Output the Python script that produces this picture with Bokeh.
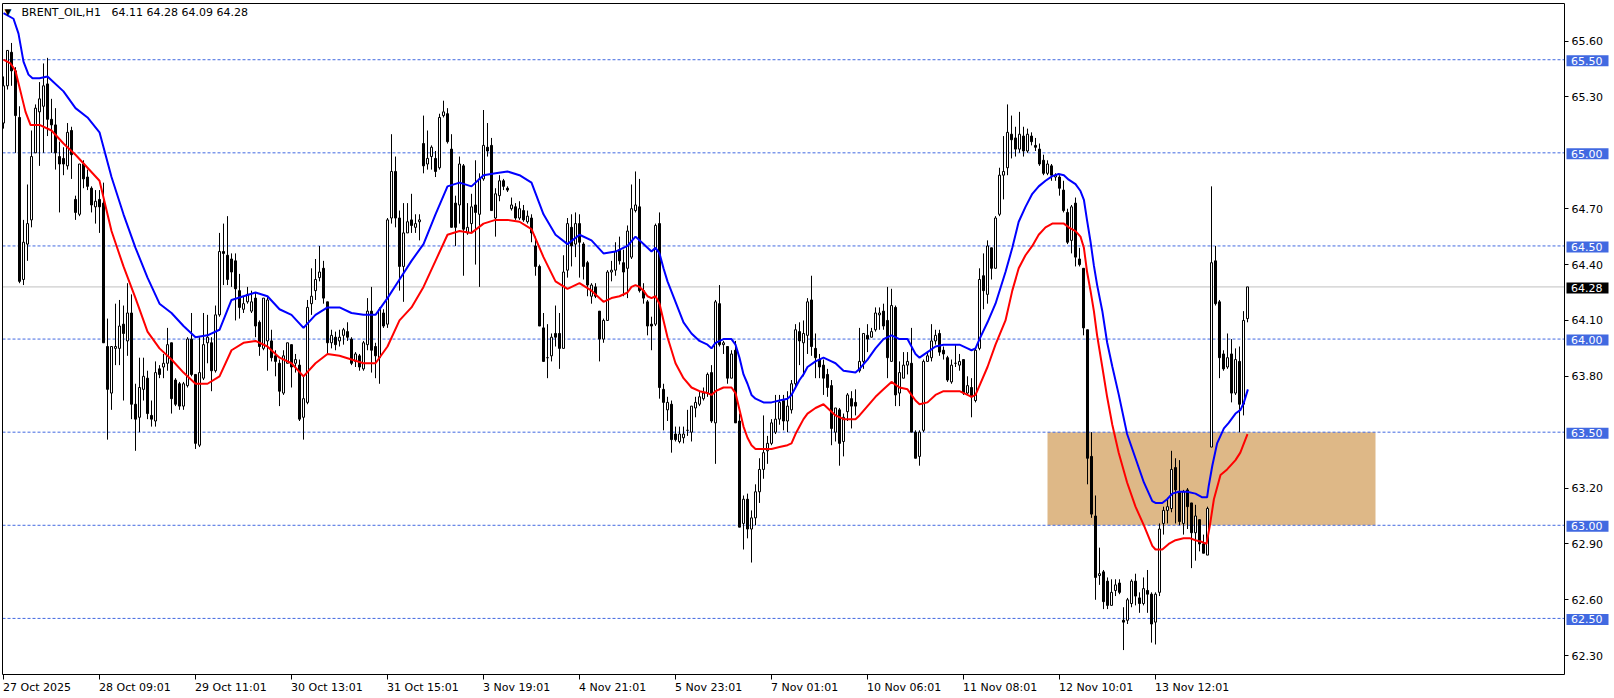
from bokeh.plotting import figure
from bokeh.models import ColumnDataSource, Label, FixedTicker, PrintfTickFormatter, LinearAxis
from bokeh.core.properties import value
from bokeh.embed import file_html
from bokeh.resources import INLINE

symbol = "BRENT_OIL,H1"

opens = [
    65.16, 65.36, 65.54, 65.44, 65.19, 64.32, 64.51, 64.64, 65.00, 65.22,
    65.25, 65.37, 65.18, 65.15, 64.98, 64.97, 64.93, 65.12, 64.75, 64.67,
    64.94, 64.87, 64.81, 64.71, 64.75, 64.73, 63.96, 63.71, 63.95, 63.95,
    64.08, 63.99, 64.14, 63.65, 63.58, 63.73, 63.79, 63.59, 63.56, 63.84,
    63.85, 63.87, 63.98, 63.78, 63.76, 63.64, 63.75, 64.00, 63.81, 63.43,
    63.79, 63.98, 63.98, 63.83, 64.13, 64.47, 64.45, 64.43, 64.42, 64.26,
    64.16, 64.20, 64.15, 64.22, 64.09, 63.95, 63.99, 63.99, 63.91, 63.87,
    63.71, 63.87, 63.97, 63.87, 63.86, 63.58, 63.66, 64.19, 64.26, 64.33,
    64.38, 64.20, 63.98, 64.01, 63.99, 64.02, 64.04, 64.00, 63.88, 63.91,
    63.84, 63.97, 64.15, 63.96, 63.90, 64.14, 64.08, 64.65, 64.90, 64.65,
    64.39, 64.57, 64.64, 64.60, 64.63, 65.05, 64.94, 64.98, 64.97, 64.92,
    65.20, 65.21, 65.02, 64.73, 64.72, 64.93, 64.57, 64.62, 64.72, 64.67,
    64.86, 65.03, 65.04, 64.65, 64.77, 64.85, 64.81, 64.70, 64.71, 64.65,
    64.69, 64.63, 64.65, 64.50, 64.39, 64.06, 63.90, 63.91, 64.03, 64.03,
    63.95, 64.37, 64.60, 64.51, 64.62, 64.51, 64.41, 64.23, 64.28, 64.15,
    64.00, 64.10, 64.36, 64.37, 64.48, 64.41, 64.38, 64.44, 64.69, 64.71,
    64.26, 64.20, 64.08, 64.08, 64.62, 63.73, 63.62, 63.65, 63.49, 63.45,
    63.47, 63.51, 63.50, 63.63, 63.65, 63.68, 63.71, 63.82, 63.55, 64.19,
    63.97, 63.96, 63.79, 63.94, 63.56, 63.01, 63.14, 62.98, 63.04, 63.18,
    63.30, 63.40, 63.44, 63.50, 63.57, 63.67, 63.56, 63.62, 63.76, 64.04,
    63.98, 64.02, 64.21, 63.95, 63.89, 63.86, 63.81, 63.75, 63.50, 63.62,
    63.45, 63.61, 63.68, 63.66, 63.83, 63.88, 64.02, 64.01, 64.05, 64.13,
    64.15, 64.10, 63.88, 64.17, 63.71, 63.79, 63.86, 63.87, 63.50, 63.37,
    63.51, 63.88, 63.90, 63.99, 64.03, 63.94, 63.90, 63.77, 63.87, 63.86,
    63.89, 63.71, 63.74, 63.67, 63.95, 64.34, 64.24, 64.49, 64.38, 64.67,
    64.88, 64.92, 65.10, 65.08, 65.02, 65.09, 65.01, 65.09, 65.04, 65.02,
    64.96, 64.89, 64.93, 64.87, 64.87, 64.80, 64.68, 64.53, 64.73, 64.43,
    64.38, 64.05, 63.37, 63.05, 62.73, 62.75, 62.70, 62.57, 62.65, 62.69,
    62.49, 62.49, 62.58, 62.70, 62.61, 62.58, 62.65, 62.63, 62.48, 62.64,
    63.01, 63.08, 63.09, 63.31, 63.18, 63.01, 63.19, 63.12, 62.96, 63.03,
    62.90, 62.84, 63.42, 64.42, 64.20, 63.92, 63.85, 63.92, 63.71, 63.88,
    63.65, 64.11,
]

highs = [
    65.41, 65.55, 65.59, 65.46, 65.25, 64.64, 64.83, 65.12, 65.26, 65.38,
    65.48, 65.51, 65.29, 65.24, 65.06, 65.03, 65.16, 65.14, 64.77, 64.94,
    64.96, 64.91, 64.82, 64.80, 64.80, 64.84, 64.11, 63.96, 64.19, 64.21,
    64.18, 64.30, 64.24, 63.76, 63.90, 63.90, 63.83, 63.67, 63.88, 63.86,
    63.92, 64.06, 63.98, 63.79, 63.77, 63.77, 64.01, 64.14, 63.81, 64.01,
    64.14, 64.13, 64.01, 64.18, 64.57, 64.62, 64.66, 64.46, 64.46, 64.35,
    64.23, 64.28, 64.26, 64.25, 64.10, 64.22, 64.23, 64.05, 63.94, 63.89,
    63.94, 63.98, 63.97, 63.92, 63.89, 63.80, 64.21, 64.38, 64.43, 64.50,
    64.42, 64.20, 64.05, 64.04, 64.05, 64.06, 64.09, 64.01, 63.93, 63.92,
    63.99, 64.22, 64.28, 63.98, 64.17, 64.16, 64.65, 65.10, 64.98, 64.69,
    64.73, 64.73, 64.78, 64.67, 64.67, 65.20, 65.12, 65.04, 65.01, 65.21,
    65.28, 65.24, 65.10, 64.77, 64.98, 64.94, 64.73, 64.78, 64.96, 64.89,
    65.23, 65.16, 65.08, 64.81, 64.88, 64.86, 64.82, 64.76, 64.73, 64.74,
    64.72, 64.69, 64.67, 64.55, 64.40, 64.14, 64.08, 64.03, 64.18, 64.14,
    64.45, 64.65, 64.67, 64.68, 64.67, 64.52, 64.42, 64.30, 64.30, 64.15,
    64.11, 64.37, 64.42, 64.52, 64.55, 64.48, 64.61, 64.83, 64.90, 64.86,
    64.30, 64.21, 64.12, 64.62, 64.68, 63.76, 63.69, 63.67, 63.53, 63.53,
    63.53, 63.62, 63.64, 63.69, 63.72, 63.74, 63.82, 63.86, 64.21, 64.29,
    63.99, 63.96, 63.94, 63.99, 63.60, 63.16, 63.17, 63.08, 63.22, 63.36,
    63.59, 63.48, 63.57, 63.70, 63.70, 63.70, 63.72, 63.78, 64.08, 64.09,
    64.10, 64.22, 64.34, 64.03, 63.92, 63.89, 63.84, 63.78, 63.63, 63.63,
    63.60, 63.71, 63.72, 63.73, 64.06, 64.03, 64.08, 64.06, 64.17, 64.17,
    64.19, 64.28, 64.27, 64.18, 63.88, 63.93, 63.93, 64.06, 63.51, 63.51,
    63.89, 63.93, 64.08, 64.05, 64.05, 63.96, 63.91, 63.89, 63.97, 63.92,
    63.89, 63.80, 63.79, 63.95, 64.38, 64.46, 64.53, 64.49, 64.66, 64.92,
    65.09, 65.26, 65.20, 65.14, 65.22, 65.14, 65.13, 65.11, 65.08, 65.05,
    64.99, 64.96, 64.94, 64.89, 64.88, 64.85, 64.70, 64.72, 64.76, 64.49,
    64.38, 64.05, 63.50, 63.16, 62.88, 62.76, 62.72, 62.71, 62.71, 62.71,
    62.56, 62.61, 62.71, 62.74, 62.64, 62.72, 62.76, 62.64, 62.64, 63.01,
    63.10, 63.14, 63.40, 63.36, 63.35, 63.19, 63.20, 63.12, 63.11, 63.03,
    62.95, 63.10, 64.82, 64.50, 64.21, 63.94, 64.03, 64.00, 63.95, 63.96,
    64.15, 64.28,
]

lows = [
    65.13, 65.34, 65.36, 65.00, 64.30, 64.29, 64.42, 64.60, 65.00, 64.93,
    65.00, 65.09, 65.00, 64.91, 64.68, 64.88, 64.91, 64.86, 64.64, 64.66,
    64.81, 64.80, 64.68, 64.62, 64.57, 63.98, 63.46, 63.62, 63.86, 63.86,
    63.67, 63.91, 63.57, 63.40, 63.50, 63.67, 63.57, 63.53, 63.53, 63.79,
    63.79, 63.83, 63.60, 63.64, 63.62, 63.62, 63.74, 63.80, 63.41, 63.42,
    63.78, 63.87, 63.72, 63.82, 64.12, 64.29, 64.29, 64.28, 64.10, 64.11,
    64.14, 64.19, 64.14, 64.01, 63.91, 63.94, 63.83, 63.88, 63.80, 63.64,
    63.70, 63.87, 63.74, 63.82, 63.56, 63.46, 63.65, 64.13, 64.21, 64.31,
    64.19, 63.92, 63.95, 63.94, 63.96, 63.97, 63.99, 63.86, 63.85, 63.83,
    63.83, 63.94, 63.82, 63.79, 63.76, 64.06, 64.06, 64.62, 64.60, 64.26,
    64.20, 64.57, 64.57, 64.57, 64.53, 64.89, 64.91, 64.91, 64.87, 64.91,
    65.19, 65.05, 64.60, 64.50, 64.62, 64.34, 64.56, 64.57, 64.40, 64.28,
    64.85, 64.98, 64.69, 64.55, 64.74, 64.80, 64.79, 64.69, 64.64, 64.64,
    64.63, 64.62, 64.52, 64.34, 64.07, 63.88, 63.79, 63.88, 63.96, 63.84,
    63.95, 64.33, 64.39, 64.44, 64.33, 64.32, 64.23, 64.19, 64.22, 63.88,
    63.98, 64.10, 64.31, 64.34, 64.40, 64.23, 64.22, 64.43, 64.68, 64.25,
    64.19, 64.02, 63.94, 64.07, 63.68, 63.51, 63.56, 63.39, 63.45, 63.44,
    63.44, 63.48, 63.45, 63.58, 63.64, 63.67, 63.69, 63.55, 63.33, 63.96,
    63.92, 63.76, 63.79, 63.55, 62.99, 62.87, 62.93, 62.80, 63.00, 63.12,
    63.25, 63.33, 63.43, 63.49, 63.54, 63.51, 63.50, 63.60, 63.74, 63.86,
    63.80, 63.92, 63.91, 63.79, 63.79, 63.70, 63.69, 63.43, 63.45, 63.32,
    63.37, 63.56, 63.52, 63.59, 63.82, 63.84, 63.93, 64.01, 64.04, 64.05,
    64.05, 63.79, 63.88, 63.64, 63.64, 63.79, 63.81, 63.50, 63.36, 63.32,
    63.50, 63.88, 63.88, 63.97, 63.91, 63.89, 63.77, 63.76, 63.85, 63.83,
    63.70, 63.70, 63.58, 63.66, 63.94, 64.16, 64.19, 64.32, 64.38, 64.66,
    64.75, 64.88, 64.97, 64.98, 65.00, 64.98, 65.00, 65.04, 65.01, 64.93,
    64.88, 64.88, 64.85, 64.85, 64.77, 64.68, 64.51, 64.46, 64.39, 64.39,
    64.02, 63.22, 63.04, 62.60, 62.68, 62.55, 62.55, 62.57, 62.62, 62.63,
    62.33, 62.47, 62.56, 62.57, 62.53, 62.57, 62.53, 62.37, 62.36, 62.62,
    62.95, 63.01, 63.07, 63.01, 63.00, 62.95, 62.98, 62.77, 62.81, 62.86,
    62.85, 62.84, 63.42, 64.18, 63.79, 63.83, 63.84, 63.66, 63.70, 63.50,
    63.59, 64.09,
]

closes = [
    65.36, 65.55, 65.44, 65.20, 64.31, 64.52, 64.62, 64.98, 65.24, 65.29,
    65.36, 65.18, 65.15, 65.00, 64.94, 64.94, 65.11, 64.99, 64.68, 64.94,
    64.86, 64.82, 64.72, 64.74, 64.71, 63.98, 63.73, 63.96, 63.96, 64.07,
    64.03, 64.14, 63.65, 63.57, 63.74, 63.80, 63.60, 63.57, 63.82, 63.81,
    63.87, 63.97, 63.68, 63.65, 63.64, 63.76, 64.00, 63.81, 63.44, 63.82,
    63.97, 64.01, 63.83, 64.13, 64.47, 64.46, 64.32, 64.36, 64.27, 64.17,
    64.19, 64.24, 64.20, 64.07, 63.96, 64.22, 64.21, 63.90, 63.88, 63.72,
    63.91, 63.98, 63.85, 63.89, 63.57, 63.68, 64.17, 64.23, 64.32, 64.36,
    64.22, 63.98, 64.02, 63.97, 64.01, 64.05, 64.01, 63.87, 63.92, 63.85,
    63.98, 64.15, 63.94, 63.91, 64.16, 64.07, 64.64, 64.90, 64.65, 64.39,
    64.57, 64.63, 64.61, 64.62, 64.64, 64.93, 64.97, 65.03, 64.90, 65.19,
    65.22, 65.06, 64.60, 64.60, 64.94, 64.59, 64.60, 64.71, 64.68, 64.86,
    65.04, 65.01, 64.69, 64.78, 64.85, 64.82, 64.80, 64.72, 64.65, 64.70,
    64.64, 64.66, 64.57, 64.39, 64.07, 63.88, 63.90, 64.01, 64.01, 63.95,
    64.36, 64.62, 64.50, 64.62, 64.52, 64.39, 64.29, 64.29, 64.23, 64.00,
    64.10, 64.36, 64.37, 64.47, 64.42, 64.36, 64.58, 64.70, 64.72, 64.26,
    64.22, 64.07, 64.07, 64.61, 63.74, 63.66, 63.66, 63.46, 63.46, 63.49,
    63.49, 63.51, 63.64, 63.66, 63.69, 63.71, 63.81, 63.56, 64.20, 63.97,
    63.98, 63.79, 63.92, 63.55, 62.99, 63.14, 62.98, 63.04, 63.18, 63.30,
    63.39, 63.44, 63.55, 63.57, 63.66, 63.56, 63.64, 63.76, 64.05, 63.99,
    64.03, 64.20, 63.96, 63.90, 63.85, 63.79, 63.74, 63.52, 63.63, 63.44,
    63.58, 63.70, 63.64, 63.64, 63.88, 64.03, 64.00, 64.04, 64.14, 64.14,
    64.07, 63.90, 64.18, 63.70, 63.82, 63.86, 63.88, 63.50, 63.36, 63.50,
    63.88, 63.91, 63.99, 64.02, 63.93, 63.92, 63.78, 63.86, 63.87, 63.88,
    63.71, 63.75, 63.69, 63.94, 64.32, 64.26, 64.50, 64.38, 64.65, 64.88,
    64.90, 65.11, 65.07, 65.02, 65.10, 65.01, 65.10, 65.06, 65.03, 64.94,
    64.89, 64.94, 64.88, 64.88, 64.81, 64.69, 64.52, 64.71, 64.44, 64.40,
    64.06, 63.36, 63.06, 62.72, 62.74, 62.59, 62.57, 62.64, 62.68, 62.64,
    62.48, 62.60, 62.70, 62.62, 62.58, 62.66, 62.63, 62.47, 62.63, 62.98,
    63.08, 63.10, 63.30, 63.19, 63.02, 63.18, 63.10, 62.96, 63.05, 62.90,
    62.85, 63.09, 64.41, 64.19, 63.90, 63.84, 63.90, 63.71, 63.89, 63.65,
    64.10, 64.28,
]

# indicator lines (bar index where read, value)
blue_x = [0, 2.5, 3.75, 5, 6.25, 7.25, 9, 11, 12, 15,
          18, 21, 24, 27, 30, 33, 36, 39, 42, 45,
          48, 51, 54, 57, 60, 63, 66, 69, 72, 75,
          78, 81, 84, 87, 90, 93, 96, 99, 102, 105,
          108, 111, 114, 117, 120, 123, 126, 129, 132, 135,
          138, 141, 144, 147, 150, 153, 156, 158, 160, 162,
          163, 164, 165, 166, 168, 170, 172, 174, 176, 177,
          178, 180, 182, 183, 184, 185, 186, 187, 188, 190,
          192, 194, 196, 197, 198, 199, 200, 201, 203, 205,
          207, 208, 210, 213, 214, 216, 218, 220, 222, 224,
          226, 228, 229, 231, 233, 235, 239, 241, 242, 243,
          244, 246, 248, 250.5, 252.2, 253.8, 255.5, 257.2, 258.8, 260.5,
          262.2, 263.8, 265.1, 266.3, 268, 269.25, 270.1, 270.9, 271.75, 272.6,
          273.4, 274.7, 275.9, 277.2, 278.8, 280.9, 283, 285.1, 287.2, 288,
          289.7, 290.9, 292.2, 293.8, 295.9, 298, 299.7, 300.9, 301.3, 302.2,
          303.4, 305.1, 306.3, 308, 309.25, 310.1, 311.1]
blue_y = [65.75, 65.72, 65.64, 65.49, 65.42, 65.40, 65.40, 65.41, 65.39, 65.33,
          65.24, 65.19, 65.11, 64.87, 64.67, 64.49, 64.33, 64.19, 64.14, 64.07,
          64.01, 64.02, 64.05, 64.21, 64.23, 64.25, 64.23, 64.16, 64.13, 64.06,
          64.13, 64.17, 64.17, 64.14, 64.13, 64.13, 64.22, 64.32, 64.42, 64.51,
          64.67, 64.82, 64.84, 64.82, 64.88, 64.89, 64.90, 64.88, 64.84, 64.67,
          64.56, 64.51, 64.56, 64.53, 64.46, 64.47, 64.50, 64.55, 64.51, 64.47,
          64.49, 64.46, 64.38, 64.31, 64.20, 64.09, 64.03, 63.99, 63.97, 63.95,
          63.98, 64.00, 64.00, 63.97, 63.90, 63.81, 63.76, 63.70, 63.68, 63.66,
          63.66, 63.67, 63.68, 63.70, 63.74, 63.78, 63.81, 63.85, 63.88, 63.90,
          63.88, 63.87, 63.83, 63.82, 63.84, 63.89, 63.95, 64.00, 64.02, 64.00,
          64.00, 63.92, 63.90, 63.93, 63.96, 63.97, 63.97, 63.95, 63.94, 63.95,
          64.00, 64.09, 64.19, 64.36, 64.49, 64.63, 64.71, 64.78, 64.82, 64.85,
          64.875, 64.886, 64.88, 64.856, 64.832, 64.795, 64.748, 64.636, 64.524, 64.394,
          64.291, 64.151, 63.983, 63.853, 63.703, 63.49, 63.36, 63.23, 63.13, 63.12,
          63.12, 63.14, 63.17, 63.18, 63.18, 63.17, 63.15, 63.15, 63.21, 63.32,
          63.44, 63.52, 63.55, 63.60, 63.62, 63.66, 63.73]

red_x = [0, 1.75, 3, 4.25, 5.5, 6.75, 9, 12, 15, 18,
         21, 24, 27, 30, 33, 36, 39, 42, 45, 48,
         51, 54, 57, 60, 63, 66, 69, 72, 75, 78,
         81, 84, 87, 90, 93, 96, 99, 102, 105, 108,
         111, 114, 117, 120, 123, 126, 129, 132, 135, 138,
         141, 144, 147, 150, 152, 154, 156, 157, 158, 159,
         160, 161, 162, 163, 164, 165, 166, 168, 170, 172,
         174, 176, 177, 178, 180, 182, 183, 184, 185, 186,
         187, 188, 190, 192, 194, 196, 197, 198, 199, 200,
         201, 203, 205, 207, 208, 210, 213, 214, 216, 218,
         220, 222, 224, 226, 228, 229, 231, 233, 235, 239,
         241, 242, 243, 244, 246, 248, 250.5, 252.2, 253.8, 255.5,
         257.2, 258.8, 260.5, 262.2, 263.8, 265.1, 266.3, 268, 269.25, 270.1,
         270.9, 271.75, 272.6, 273.4, 274.7, 275.9, 277.2, 278.8, 280.9, 283,
         285.1, 287.2, 288, 289.7, 291.3, 293, 295, 296.7, 298, 299.7,
         300.75, 301.6, 302.6, 304.25, 305.9, 308, 309.2, 311]
red_y = [65.50, 65.48, 65.44, 65.33, 65.22, 65.15, 65.15, 65.12, 65.05, 64.99,
         64.92, 64.85, 64.58, 64.39, 64.22, 64.04, 63.95, 63.89, 63.82, 63.76,
         63.76, 63.80, 63.94, 63.98, 63.99, 63.96, 63.90, 63.87, 63.80, 63.87,
         63.92, 63.91, 63.89, 63.87, 63.87, 63.96, 64.10, 64.17, 64.28, 64.42,
         64.56, 64.58, 64.57, 64.62, 64.64, 64.64, 64.63, 64.59, 64.44, 64.31,
         64.27, 64.30, 64.26, 64.20, 64.22, 64.23, 64.25, 64.28, 64.29, 64.28,
         64.26, 64.23, 64.22, 64.23, 64.19, 64.10, 64.01, 63.87, 63.79, 63.74,
         63.72, 63.71, 63.70, 63.72, 63.74, 63.74, 63.71, 63.62, 63.53, 63.47,
         63.43, 63.41, 63.41, 63.41, 63.42, 63.43, 63.44, 63.49, 63.53, 63.57,
         63.60, 63.63, 63.65, 63.61, 63.59, 63.57, 63.57, 63.59, 63.64, 63.69,
         63.73, 63.77, 63.74, 63.73, 63.67, 63.65, 63.66, 63.70, 63.72, 63.72,
         63.70, 63.69, 63.70, 63.75, 63.85, 63.97, 64.10, 64.26, 64.38, 64.45,
         64.50, 64.56, 64.60, 64.62, 64.62, 64.62, 64.60, 64.58, 64.55, 64.49,
         64.36, 64.26, 64.15, 64.02, 63.85, 63.69, 63.54, 63.39, 63.23, 63.10,
         63.00, 62.89, 62.87, 62.87, 62.90, 62.92, 62.93, 62.93, 62.92, 62.91,
         62.90, 63.00, 63.14, 63.27, 63.30, 63.35, 63.39, 63.49]

time_labels = ["27 Oct 2025", "28 Oct 09:01", "29 Oct 11:01", "30 Oct 13:01",
               "31 Oct 15:01", "3 Nov 19:01", "4 Nov 21:01", "5 Nov 23:01",
               "7 Nov 01:01", "10 Nov 06:01", "11 Nov 08:01", "12 Nov 10:01",
               "13 Nov 12:01"]
bars_per_label = 24
price_ticks = [62.3, 62.6, 62.9, 63.2, 63.8, 64.1, 64.4, 64.7, 65.3, 65.6]
levels = [65.5, 65.0, 64.5, 64.0, 63.5, 63.0, 62.5]
zone_low, zone_high = 63.0, 63.5
zone_start_bar, zone_end_bar = 261, 343

assert len(opens) == len(highs) == len(lows) == len(closes)
assert len(blue_x) == len(blue_y) and len(red_x) == len(red_y)

# ---------------- layout (pixel geometry of the terminal window) ----------------
W, H = 1614, 698
PX_PER_BAR = 4.0
PX_PER_UNIT = 186.23
X_START = -0.75                       # bar coordinate at the left canvas edge
Y_TOP = 65.818                        # price at the top canvas edge
X_END = X_START + W / PX_PER_BAR
Y_BOTTOM = Y_TOP - H / PX_PER_UNIT

def bx(px):   # canvas pixel -> bar coordinate
    return X_START + px / PX_PER_BAR

def py(px):   # canvas pixel -> price coordinate
    return Y_TOP - px / PX_PER_UNIT

X_LEFT_LINE = bx(2.0)
X_PLOT_END = bx(1564.0)
Y_FRAME_TOP = py(3.0)
Y_PLOT_BOTTOM = py(674.0)

FONT = "DejaVu Sans"
LEVEL_BLUE = "#4169E1"

p = figure(width=W, height=H, output_backend="svg", toolbar_location=None,
           x_range=(X_START, X_END), y_range=(Y_BOTTOM, Y_TOP),
           x_axis_location=None, y_axis_location=None, min_border=0)
p.xgrid.visible = False
p.ygrid.visible = False
p.outline_line_color = None
p.background_fill_color = "white"
p.border_fill_color = "white"

# support / resistance zone
p.quad(left=[zone_start_bar], right=[zone_end_bar], bottom=[zone_low], top=[zone_high],
       fill_color="#DEB887", line_color=None)

# horizontal levels
p.segment(x0=[X_LEFT_LINE] * len(levels), x1=[X_PLOT_END] * len(levels),
          y0=levels, y1=levels, line_color=LEVEL_BLUE, line_width=1, line_dash="3 2")
last_price = closes[-1]
p.segment(x0=[X_LEFT_LINE], x1=[X_PLOT_END], y0=[last_price], y1=[last_price],
          line_color="#C0C0C0", line_width=1)

# candles
n = len(opens)
def subset(is_bull):
    idx = [i for i in range(n) if (closes[i] >= opens[i]) == is_bull]
    return ColumnDataSource(dict(
        x=idx,
        high=[highs[i] for i in idx], low=[lows[i] for i in idx],
        top=[max(opens[i], closes[i]) for i in idx],
        bottom=[min(opens[i], closes[i]) for i in idx]))

for is_bull, fill in ((True, "white"), (False, "black")):
    src = subset(is_bull)
    p.segment(x0="x", y0="low", x1="x", y1="high", source=src, line_color="black", line_width=1)
    p.vbar(x="x", width=0.5, top="top", bottom="bottom", source=src,
           fill_color=fill, line_color="black", line_width=1)

p.line(blue_x, blue_y, line_color="#0000FF", line_width=2)
p.line(red_x, red_y, line_color="#FF0000", line_width=2)

# chart frame: left and top edges (right and bottom are the axes)
p.segment(x0=[X_LEFT_LINE, X_LEFT_LINE], y0=[Y_PLOT_BOTTOM, Y_FRAME_TOP],
          x1=[X_LEFT_LINE, X_PLOT_END], y1=[Y_FRAME_TOP, Y_FRAME_TOP],
          line_color="black", line_width=1)

# price scale on the right
yax = LinearAxis(fixed_location=X_PLOT_END, bounds=(Y_PLOT_BOTTOM, Y_FRAME_TOP),
                 ticker=FixedTicker(ticks=price_ticks),
                 formatter=PrintfTickFormatter(format="%.2f"))
yax.major_tick_in = 0
yax.major_tick_out = 4
yax.minor_tick_out = 0
yax.minor_tick_in = 0
yax.major_label_standoff = 3
yax.axis_line_color = "black"
yax.major_tick_line_color = "black"
yax.major_label_text_font = FONT
yax.major_label_text_font_size = "11px"
yax.major_label_text_color = "black"
p.add_layout(yax, "right")

# time scale at the bottom
tick_bars = [k * bars_per_label for k in range(len(time_labels))]
xax = LinearAxis(fixed_location=Y_PLOT_BOTTOM, bounds=(X_LEFT_LINE, X_PLOT_END),
                 ticker=FixedTicker(ticks=tick_bars))
xax.major_label_overrides = {b: "" for b in tick_bars}
xax.major_tick_in = 0
xax.major_tick_out = 5
xax.minor_tick_out = 0
xax.minor_tick_in = 0
xax.axis_line_color = "black"
xax.major_tick_line_color = "black"
p.add_layout(xax, "below")

for b, t in zip(tick_bars, time_labels):
    p.add_layout(Label(x=b, y=Y_PLOT_BOTTOM, x_offset=-0.5, y_offset=-6, text=t,
                       text_font=FONT, text_font_size="11px", text_color="black",
                       text_baseline="top", text_align="left"))

# level price tags on the scale
def tag(levels_list, color):
    box_l = X_PLOT_END + 2 / PX_PER_BAR
    box_r = X_PLOT_END + 44 / PX_PER_BAR
    p.quad(left=[box_l] * len(levels_list), right=[box_r] * len(levels_list),
           top=[lv + 4.5 / PX_PER_UNIT for lv in levels_list],
           bottom=[lv - 6.5 / PX_PER_UNIT for lv in levels_list],
           fill_color=color, line_color=None)
    p.text(x=[X_PLOT_END + 6.5 / PX_PER_BAR] * len(levels_list),
           y=[lv - 1 / PX_PER_UNIT for lv in levels_list],
           text=[f"{lv:.2f}" for lv in levels_list],
           text_font=value(FONT), text_font_size="11px", text_color="white",
           text_baseline="middle", text_align="left")

tag(levels, LEVEL_BLUE)
tag([last_price], "black")

# header
p.add_layout(Label(x=X_START, y=Y_TOP, x_offset=4, y_offset=-6, text="\u25BC",
                   text_font=FONT, text_font_size="9px", text_color="black",
                   text_baseline="top", text_align="left"))
p.add_layout(Label(x=X_START, y=Y_TOP, x_offset=21, y_offset=-5, text=symbol,
                   text_font=FONT, text_font_size="11px", text_color="black",
                   text_baseline="top", text_align="left"))
p.add_layout(Label(x=X_START, y=Y_TOP, x_offset=111, y_offset=-5,
                   text=f"{opens[-1]:.2f} {highs[-1]:.2f} {lows[-1]:.2f} {closes[-1]:.2f}",
                   text_font=FONT, text_font_size="11px", text_color="black",
                   text_baseline="top", text_align="left"))

open("out.html", "w").write(file_html(p, INLINE))
